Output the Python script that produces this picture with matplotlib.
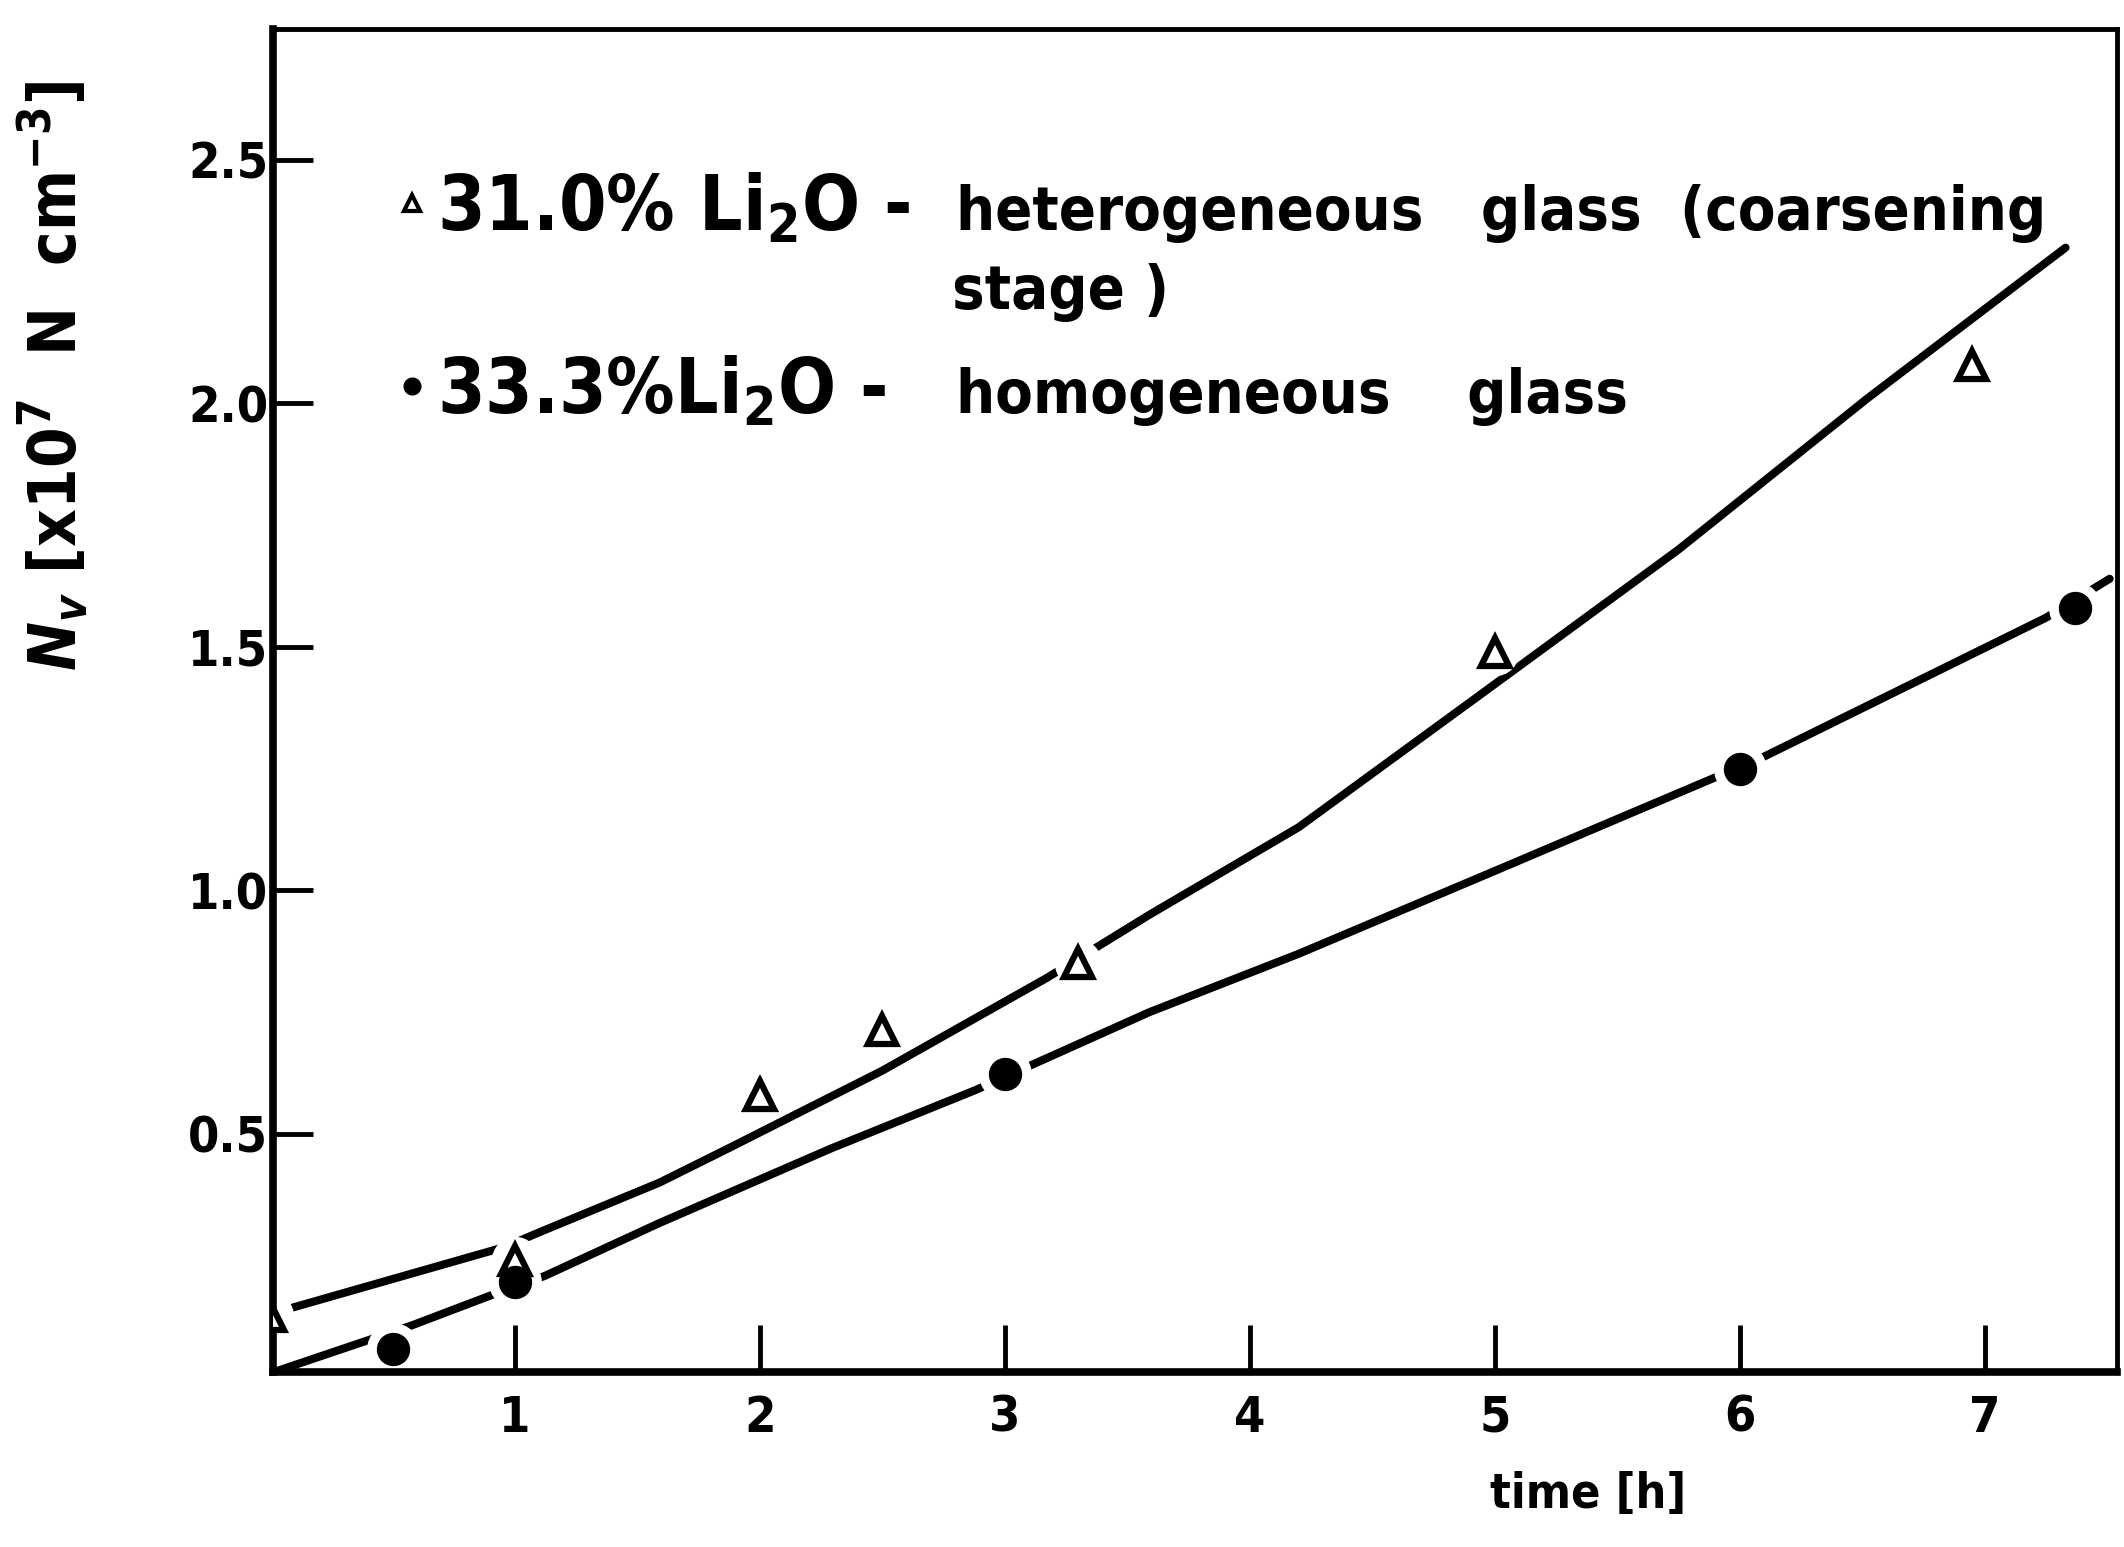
import math
import matplotlib
matplotlib.use("Agg")
import matplotlib.pyplot as plt
from matplotlib.lines import Line2D
from matplotlib import font_manager as fm

# ---------- pick a condensed bold sans if one is installed ----------
def _w(f):
    w = f.weight
    if isinstance(w, str):
        return {'bold': 700, 'heavy': 800, 'black': 900, 'semibold': 600,
                'demibold': 600, 'normal': 400, 'regular': 400, 'medium': 500}.get(w.lower(), 400)
    return int(w)

cands = []
for f in fm.fontManager.ttflist:
    nm, fn, st = f.name.lower(), f.fname.lower(), str(f.stretch).lower()
    cond = ('condensed' in st or 'narrow' in nm or 'condensed' in nm
            or 'narrow' in fn or 'condensed' in fn)
    if cond and f.style == 'normal' and 'semi' not in st and 'mono' not in nm:
        cands.append(f)
bold = [f for f in cands if _w(f) >= 600]
pool = bold if bold else cands
FAM, STRETCH, WEIGHT = 'DejaVu Sans', 'normal', 'bold'
if pool:
    pref = ['dejavu sans', 'liberation sans narrow', 'noto sans', 'open sans', 'roboto condensed']
    pool.sort(key=lambda f: next((i for i, p in enumerate(pref) if f.name.lower().startswith(p)), 99))
    FAM, STRETCH, WEIGHT = pool[0].name, pool[0].stretch, pool[0].weight

plt.rcParams['font.family'] = [FAM, 'DejaVu Sans']
plt.rcParams['font.stretch'] = STRETCH
plt.rcParams['font.weight'] = WEIGHT
plt.rcParams['axes.labelweight'] = WEIGHT
plt.rcParams['mathtext.fontset'] = 'custom'
plt.rcParams['mathtext.default'] = 'regular'
plt.rcParams['mathtext.it'] = 'DejaVu Sans:italic:bold'
plt.rcParams['mathtext.rm'] = 'DejaVu Sans:bold'

# ---------------- data ----------------
# 31.0 % Li2O - heterogeneous glass (open triangles)
het_t = [0.0, 1.0, 2.0, 2.5, 3.3, 5.0, 6.95]
het_n = [0.125, 0.24, 0.58, 0.713, 0.851, 1.49, 2.08]
# 33.3 % Li2O - homogeneous glass (filled circles)
hom_t = [0.5, 1.0, 3.0, 6.0, 7.37]
hom_n = [0.058, 0.196, 0.623, 1.25, 1.58]

# hand-drawn curves
het_fit_t = [0.09, 0.96, 1.09, 1.59, 1.87, 2.5, 3.17, 3.59, 4.20, 4.99, 5.75, 6.52, 7.33]
het_fit_n = [0.143, 0.268, 0.296, 0.40, 0.47, 0.63, 0.82, 0.95, 1.13, 1.42, 1.70, 2.01, 2.32]
hom_fit_t = [0.01, 0.44, 0.58, 0.91, 1.12, 1.59, 2.29, 2.88, 3.59, 4.20, 5.0, 5.89, 6.08, 7.25, 7.51]
hom_fit_n = [0.01, 0.083, 0.107, 0.17, 0.208, 0.317, 0.47, 0.59, 0.75, 0.87, 1.04, 1.23, 1.27, 1.56, 1.64]

xticks = [1, 2, 3, 4, 5, 6, 7]
xticklabels = ['1', '2', '3', '4', '5', '6', '7']
yticks = [0.5, 1.0, 1.5, 2.0, 2.5]
yticklabels = ['0.5', '1.0', '1.5', '2.0', '2.5']
leg_labels = [r'31.0% Li$_2$O -', r'33.3%Li$_2$O -']
desc_labels = ['heterogeneous   glass  (coarsening', 'stage )', 'homogeneous    glass']

# ---------------- figure ----------------
W, H = 2124, 1547
fig = plt.figure(figsize=(W / 100, H / 100), dpi=100)
AX_L, AX_R, AX_T, AX_B = 273, 2117, 29, 1372          # axes box in image pixels
ax = fig.add_axes([AX_L / W, 1 - AX_B / H, (AX_R - AX_L) / W, (AX_B - AX_T) / H])
ax.set_xlim(0.012, 7.54)
ax.set_ylim(0.011, 2.769)

def axx(px):
    return (px - AX_L) / (AX_R - AX_L)

def axy(py):
    return (AX_B - py) / (AX_B - AX_T)

ax.plot(het_fit_t, het_fit_n, color='black', lw=5.8, solid_capstyle='round',
        solid_joinstyle='round', zorder=2)
ax.plot(hom_fit_t, hom_fit_n, color='black', lw=5.8, solid_capstyle='round',
        solid_joinstyle='round', zorder=2)

# white halos give the gaps of the hand-drawn lines around the symbols
ax.plot(het_t, het_n, ls='none', marker='o', ms=34, mfc='white', mec='none', zorder=2.1)
ax.plot(hom_t, hom_n, ls='none', marker='o', ms=38, mfc='white', mec='none', zorder=2.1)
ax.plot(het_t, het_n, ls='none', marker='^', ms=20, mfc='white', mec='black', mew=4.5, zorder=3)
ax.plot(hom_t, hom_n, ls='none', marker='o', ms=23, color='black', zorder=3)

for side in ['left', 'bottom']:
    ax.spines[side].set_linewidth(5.5)
for side in ['top', 'right']:
    ax.spines[side].set_linewidth(3.5)

ax.set_xticks(xticks)
ax.set_xticklabels(xticklabels)
ax.set_yticks(yticks)
ax.set_yticklabels(yticklabels)
xpad, ypad = 10.0, 3.0
ax.tick_params(axis='x', direction='in', length=34, width=3.5, pad=xpad, labelsize=30)
ax.tick_params(axis='y', direction='in', length=29, width=3.5, pad=ypad, labelsize=30)

xl = ax.set_xlabel('time [h]', fontsize=36, fontweight=WEIGHT)
ax.xaxis.label.set_va('center')
ax.xaxis.set_label_coords(axx(1588), axy(1494))
yl = ax.set_ylabel(r'$\mathit{N_v}$ [x10$^7$  N  cm$^{-3}$]', fontsize=40, fontweight=WEIGHT)
ax.yaxis.label.set_va('center')
ax.yaxis.set_label_coords(axx(54), axy(376))

descs = [
    ax.text(axx(956), axy(230), desc_labels[0], transform=ax.transAxes, fontsize=40, va='baseline'),
    ax.text(axx(952), axy(309), desc_labels[1], transform=ax.transAxes, fontsize=40, va='baseline'),
    ax.text(axx(956), axy(413), desc_labels[2], transform=ax.transAxes, fontsize=40, va='baseline'),
]

fig.canvas.draw()
r = fig.canvas.get_renderer()

# --- fit text sizes to the reference (width fit blended with letter height) ---
def fit(t, target, use_height=False):
    bb = t.get_window_extent(r)
    cur = bb.height if use_height else bb.width
    return t.get_fontsize() * target / cur

def blend(size_w, em_px, wh=0.5):
    size_h = em_px * 72 / 100
    return size_w ** (1 - wh) * size_h ** wh

fs_desc = fit(descs[0], 1089)
for t in descs:
    t.set_fontsize(fs_desc)
xl.set_fontsize(blend(fit(xl, 125), 54, 0.8))
yl.set_fontsize(blend(fit(yl, 630, use_height=True), 61))
fs_tick = blend(fit(ax.get_yticklabels()[-1], 63), 59, 0.6)
ax.tick_params(axis='both', labelsize=fs_tick)

tmp = ax.text(0, 0, leg_labels[0], transform=ax.transAxes, fontsize=40)
fs_leg = fit(tmp, 474)
tmp.remove()

# --- tick label pads ---
for _ in range(3):
    fig.canvas.draw()
    bx = ax.get_xticklabels()[0].get_window_extent(r)
    by = ax.get_yticklabels()[-1].get_window_extent(r)
    xpad += ((bx.y0 + bx.y1) / 2 - (H - 1418)) * 72 / 100
    ypad += (by.x1 - 268) * 72 / 100
    ypad = max(ypad, 0.5)
    ax.tick_params(axis='x', pad=xpad)
    ax.tick_params(axis='y', pad=ypad)

# --- legend (symbol + composition), positioned on the reference baselines ---
handles = [
    Line2D([], [], ls='none', marker='^', ms=11, mfc='white', mec='black', mew=3),
    Line2D([], [], ls='none', marker='o', ms=12, color='black'),
]
refs = [ax.text(axx(437), axy(230), leg_labels[0], transform=ax.transAxes, fontsize=fs_leg, va='baseline'),
        ax.text(axx(437), axy(413), leg_labels[1], transform=ax.transAxes, fontsize=fs_leg, va='baseline')]
fig.canvas.draw()
tgt = [t.get_window_extent(r) for t in refs]
for t in refs:
    t.remove()

fs_px = fs_leg * 100 / 72
hl = 0.4
hp = max((25 - 0.5 * hl * fs_px) / fs_px, 0.05)
ls = 1.6
ax_w = AX_R - AX_L
ax_h = AX_B - AX_T
anc = [axx(437 - (hl + hp) * fs_px), axy(230 - 0.9 * fs_px)]
leg = None
for _ in range(4):
    if leg is not None:
        leg.remove()
    leg = ax.legend(handles, leg_labels, loc='upper left', bbox_to_anchor=tuple(anc),
                    frameon=False, fontsize=fs_leg, handlelength=hl, handletextpad=hp,
                    labelspacing=ls, borderpad=0, borderaxespad=0)
    fig.canvas.draw()
    cur = [t.get_window_extent(r) for t in leg.get_texts()]
    anc[0] += (tgt[0].x0 - cur[0].x0) / ax_w
    anc[1] += (tgt[0].y0 - cur[0].y0) / ax_h
    ls += ((tgt[0].y0 - tgt[1].y0) - (cur[0].y0 - cur[1].y0)) / fs_px
leg.remove()
leg = ax.legend(handles, leg_labels, loc='upper left', bbox_to_anchor=tuple(anc),
                frameon=False, fontsize=fs_leg, handlelength=hl, handletextpad=hp,
                labelspacing=ls, borderpad=0, borderaxespad=0)

fig.savefig('out.png', dpi=100)
